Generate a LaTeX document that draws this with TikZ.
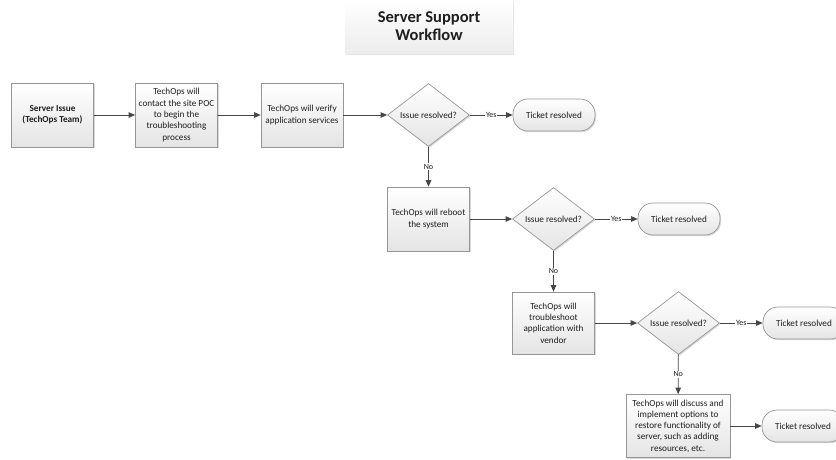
\documentclass[tikz,border=0pt]{standalone}
\usepackage{fontspec}
\setmainfont{Carlito}
\usetikzlibrary{shapes.geometric,arrows.meta,shadows}

\definecolor{edgegray}{RGB}{150,150,150}
\definecolor{linkgray}{RGB}{70,70,70}
\definecolor{inkgray}{RGB}{30,30,30}
\definecolor{shadegray}{RGB}{228,228,228}

\tikzset{
  basebox/.style={draw=edgegray, line width=0.7pt, top color=white, bottom color=shadegray,
    text=inkgray, align=center, inner sep=2pt,
    font=\fontsize{9.2}{11.3}\selectfont,
    drop shadow={shadow xshift=1.2pt, shadow yshift=-1.2pt, opacity=0.25, fill=black!60}},
  procbox/.style={basebox, rectangle, minimum width=82pt, minimum height=64pt},
  decision/.style={basebox, diamond, aspect=1.29, minimum width=82pt, minimum height=63pt, inner sep=0pt},
  terminal/.style={basebox, rectangle, rounded corners=15pt, minimum width=82pt, minimum height=32pt},
  titlebox/.style={rectangle, top color=white, bottom color=shadegray!70, text=inkgray,
    align=center, minimum width=168pt, minimum height=53pt,
    font=\fontsize{16.5}{18}\selectfont\bfseries,
    drop shadow={shadow xshift=1pt, shadow yshift=-1.5pt, opacity=0.2, fill=black!50}},
  link/.style={draw=linkgray, line width=0.8pt, -{Triangle[length=6.5pt,width=5.5pt]}},
  tag/.style={fill=white, inner sep=1pt, text=inkgray, font=\fontsize{8}{9}\selectfont}
}

\begin{document}
\begin{tikzpicture}[x=1pt,y=-1pt]
\clip (0,0) rectangle (836,459);
\useasboundingbox (0,0) rectangle (836,459);

% title
\node[titlebox] (title) at (429,26.5) {Server Support\\Workflow};

% first row
\node[procbox] (issue) at (52.5,115) {\textbf{Server Issue}\\\textbf{(TechOps Team)}};
\node[procbox] (contact) at (176.5,115) {TechOps will\\contact the site POC\\to begin the\\troubleshooting\\process};
\node[procbox] (verify) at (302,115) {TechOps will verify\\application services};
\node[decision] (q1) at (428.5,115) {Issue resolved?};
\node[terminal] (done1) at (554,115) {Ticket resolved};

% second row
\node[procbox] (reboot) at (428.5,219) {TechOps will reboot\\the system};
\node[decision] (q2) at (553.5,219) {Issue resolved?};
\node[terminal] (done2) at (679,219) {Ticket resolved};

% third row
\node[procbox, minimum height=62pt] (vendor) at (553.5,323) {TechOps will\\troubleshoot\\application with\\vendor};
\node[decision] (q3) at (678.5,323) {Issue resolved?};
\node[terminal] (done3) at (804,323) {Ticket resolved};

% fourth row
\node[procbox, minimum width=104pt, minimum height=63pt] (options) at (678,426) {TechOps will discuss and\\implement options to\\restore functionality of\\server, such as adding\\resources, etc.};
\node[terminal] (done4) at (803,426) {Ticket resolved};

% connectors
\draw[link] (issue) -- (contact);
\draw[link] (contact) -- (verify);
\draw[link] (verify) -- (q1);
\draw[link] (q1) -- node[tag] {Yes} (done1);
\draw[link] (q1) -- node[tag] {No} (reboot);
\draw[link] (reboot) -- (q2);
\draw[link] (q2) -- node[tag] {Yes} (done2);
\draw[link] (q2) -- node[tag] {No} (vendor);
\draw[link] (vendor) -- (q3);
\draw[link] (q3) -- node[tag] {Yes} (done3);
\draw[link] (q3) -- node[tag] {No} (options);
\draw[link] (options) -- (done4);
\end{tikzpicture}
\end{document}
